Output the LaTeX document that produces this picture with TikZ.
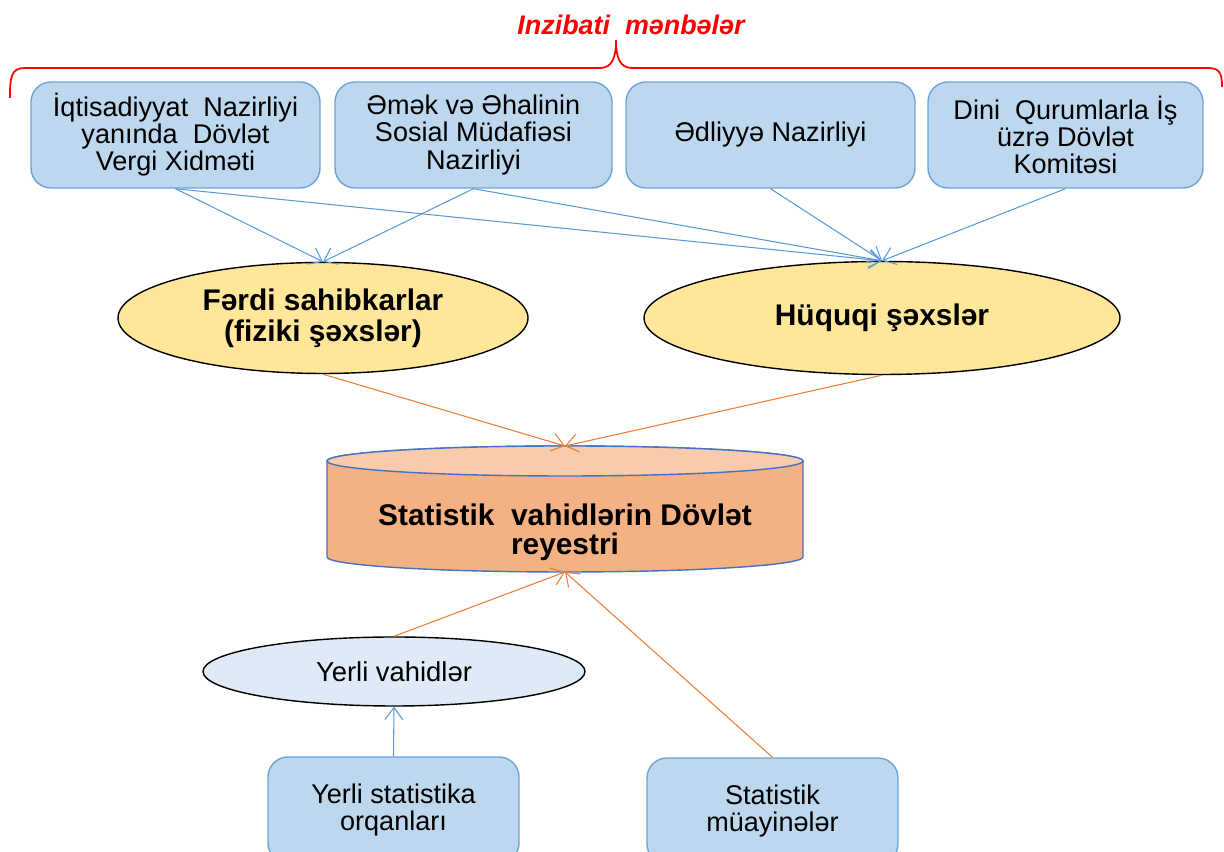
\documentclass[tikz,border=0pt]{standalone}
\usepackage{fontspec}
\setmainfont{Liberation Sans}
\usetikzlibrary{shapes.geometric,arrows.meta}
\definecolor{boxfill}{HTML}{BDD7EE}
\definecolor{boxline}{HTML}{6FA3D8}
\definecolor{subjfill}{HTML}{FFE699}
\definecolor{localfill}{HTML}{DEEBF7}
\definecolor{cylbody}{HTML}{F4B183}
\definecolor{cyltop}{HTML}{F8CBAD}
\definecolor{cylline}{HTML}{4472C4}
\definecolor{arrowblue}{HTML}{5B9BD5}
\definecolor{arroworange}{HTML}{ED7D31}
\definecolor{titlered}{HTML}{FF0000}

\begin{document}
\begin{tikzpicture}[>={Straight Barb[length=0.24cm,width=0.36cm]},
  organ/.style={draw=boxline, fill=boxfill, rounded corners=0.4cm, line width=0.8pt,
    align=center, font=\fontsize{15.4}{15.4}\selectfont, minimum height=2.12cm, inner sep=2pt},
  subject/.style={ellipse, draw=black, fill=subjfill, line width=0.8pt, inner sep=0pt,
    align=center, font=\bfseries\fontsize{17}{17.6}\selectfont},
  bluearrow/.style={->, draw=arrowblue, line width=0.6pt},
  orangearrow/.style={->, draw=arroworange, line width=0.6pt}]
\useasboundingbox (0,0) rectangle (24.48,17.04);

% title and brace
\node[text=titlered, font=\bfseries\itshape\fontsize{15.3}{16}\selectfont] (title) at (12.62,16.54) {Inzibati~ mənbələr};
\draw[titlered, line width=1pt] (0.2,15.08) .. controls (0.2,15.5) and (0.22,15.68) .. (0.5,15.68)
  -- (12.0,15.68) .. controls (12.25,15.68) and (12.32,15.9) .. (12.32,16.24)
  .. controls (12.32,15.9) and (12.39,15.68) .. (12.64,15.68)
  -- (24.15,15.68) .. controls (24.38,15.68) and (24.44,15.6) .. (24.44,15.3);

% sources
\node[organ, minimum width=5.78cm] (vergi) at (3.51,14.34) {İqtisadiyyat~ Nazirliyi\\yanında~ Dövlət\\Vergi Xidməti};
\node[organ, minimum width=5.54cm] (emek) at (9.47,14.34) {Əmək və Əhalinin\\Sosial Müdafiəsi\\Nazirliyi};
\node[organ, minimum width=5.78cm] (edliyye) at (15.41,14.34) {Ədliyyə Nazirliyi};
\node[organ, minimum width=5.5cm] (dini) at (21.31,14.34) {Dini~ Qurumlarla İş\\üzrə Dövlət\\Komitəsi};

\node[subject, minimum width=8.2cm, minimum height=2.22cm] (ferdi) at (6.46,10.68) {Fərdi sahibkarlar\\(fiziki şəxslər)};
\node[subject, minimum width=9.52cm, minimum height=2.26cm] (huquqi) at (17.64,10.68) {Hüquqi şəxslər};

% register
\filldraw[fill=cylbody, draw=cylline, line width=0.8pt] (6.54,7.82) -- (6.54,5.9)
  arc[start angle=180, end angle=360, x radius=4.76, y radius=0.3] -- (16.06,7.82)
  arc[start angle=0, end angle=180, x radius=4.76, y radius=0.3] -- cycle;
\filldraw[fill=cyltop, draw=cylline, line width=0.8pt] (11.3,7.82) ellipse[x radius=4.76, y radius=0.3];
\node[align=center, font=\bfseries\fontsize{17}{16.6}\selectfont] (reyestr) at (11.3,6.39) {Statistik~ vahidlərin Dövlət\\reyestri};
\coordinate (regtop) at (11.3,8.12);
\coordinate (regbot) at (11.3,5.6);

\node[subject, fill=localfill, font=\fontsize{15.6}{15.4}\selectfont, minimum width=7.64cm, minimum height=1.38cm] (yerli) at (7.88,3.61) {Yerli vahidlər};
\node[organ, minimum width=5.02cm] (yerliorg) at (7.87,0.84) {Yerli statistika\\orqanları};
\node[organ, minimum width=5.02cm] (muayine) at (15.45,0.82) {Statistik\\müayinələr};

% connectors
\foreach \from in {vergi,emek}
  \draw[bluearrow] (\from.south) -- (ferdi.north);
\foreach \from in {vergi,emek,edliyye,dini}
  \draw[bluearrow] (\from.south) -- (huquqi.north);
\foreach \from in {ferdi,huquqi}
  \draw[orangearrow] (\from.south) -- (regtop);
\draw[orangearrow] (yerli.north) -- (regbot);
\draw[orangearrow] (muayine.north) -- (regbot);
\draw[bluearrow] (yerliorg.north) -- (yerli.south);
\end{tikzpicture}
\end{document}
